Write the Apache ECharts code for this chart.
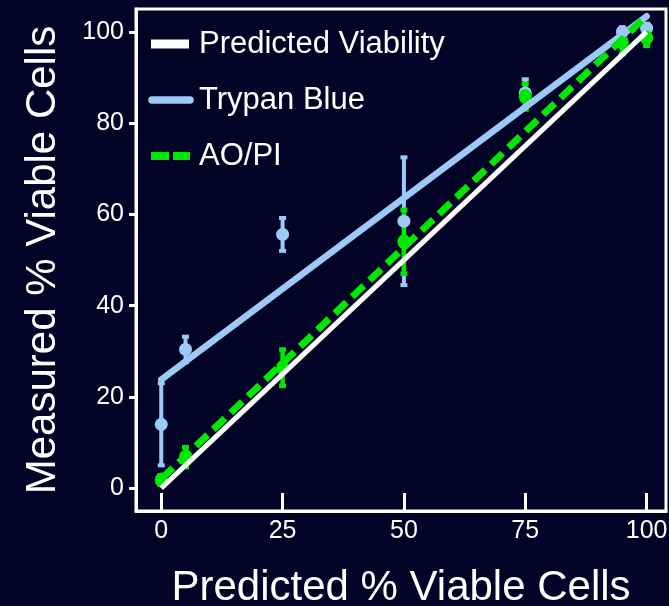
<!DOCTYPE html>
<html>
<head>
<meta charset="utf-8">
<script src="https://cdn.jsdelivr.net/npm/echarts@6/dist/echarts.min.js"></script>
<style>
html,body{margin:0;padding:0;background:#030328;}
#c{width:669px;height:606px;}
</style>
</head>
<body>
<div id="c"></div>
<script>
// ---- data ----
const xValues = [0, 5, 25, 50, 75, 95, 100];
const trypanMean = [14.0, 30.4, 55.6, 58.5, 86.6, 100.0, 100.8];
const trypanErr  = [9.0, 2.8, 3.6, 14.0, 3.0, 1.0, 1.0];
const aopiMean   = [1.8, 6.8, 26.4, 54.0, 85.8, 97.7, 98.7];
const aopiErr    = [1.0, 2.2, 4.0, 7.0, 2.8, 2.6, 1.8];

const predictedX = [0, 100];
const predictedY = [0, 100];
const trypanFitX = [0, 100];
const trypanFitY = [23.8, 103.4];
const aopiFitX   = [0, 100];
const aopiFitY   = [2.0, 103.5];

const xTicks = [0, 25, 50, 75, 100];
const yTicks = [0, 20, 40, 60, 80, 100];

const seriesNames = ['Predicted Viability', 'Trypan Blue', 'AO/PI'];
const xTitle = 'Predicted % Viable Cells';
const yTitle = 'Measured % Viable Cells';

// ---- styling ----
const WHITE = '#ffffff';
const BLUE = '#9cc9f8';
const GREEN = '#00e800';
const FONT = '"Liberation Sans", Arial, sans-serif';

const zip = (a, b) => a.map((v, i) => [v, b[i]]);
const zip3 = (a, b, c) => a.map((v, i) => [v, b[i], c[i]]);

function errRender(color, lw) {
  return function (params, api) {
    const x = api.value(0), m = api.value(1), e = api.value(2);
    const t = api.coord([x, m + e]);
    const b = api.coord([x, m - e]);
    const hw = 3.5;
    const st = { stroke: color, lineWidth: lw };
    return {
      type: 'group',
      children: [
        { type: 'line', shape: { x1: t[0], y1: t[1], x2: b[0], y2: b[1] }, style: st },
        { type: 'line', shape: { x1: t[0] - hw, y1: t[1], x2: t[0] + hw, y2: t[1] }, style: st },
        { type: 'line', shape: { x1: b[0] - hw, y1: b[1], x2: b[0] + hw, y2: b[1] }, style: st }
      ]
    };
  };
}

const chart = echarts.init(document.getElementById('c'), null, { renderer: 'canvas' });
chart.setOption({
  backgroundColor: '#030328',
  animation: false,
  textStyle: { fontFamily: FONT },
  grid: {
    left: 136, right: 3, top: 9, bottom: 95,
    containLabel: false, outerBoundsMode: 'none',
    show: true, borderColor: WHITE, borderWidth: 3, backgroundColor: 'transparent'
  },
  legend: {
    orient: 'vertical',
    left: 148, top: 27,
    padding: 0,
    itemWidth: 46, itemHeight: 10,
    itemGap: 22,
    textStyle: { color: WHITE, fontSize: 31, fontFamily: FONT, lineHeight: 34 },
    data: [
      { name: seriesNames[0], icon: 'path://M0,0 M46,10 M3,0.5H41V9.5H3Z', itemStyle: { color: WHITE } },
      { name: seriesNames[1], icon: 'path://M0,0 M46,10 M4,1.2H42A3.8,3.8 0 0 1 42,8.8H4A3.8,3.8 0 0 1 4,1.2Z', itemStyle: { color: BLUE } },
      { name: seriesNames[2], icon: 'path://M0,0 M46,10 M3,1H21V9H3Z M25,1H42V9H25Z', itemStyle: { color: GREEN } }
    ]
  },
  xAxis: {
    type: 'value', min: -5.2, max: 104,
    name: xTitle, nameLocation: 'middle', nameGap: 56,
    nameTextStyle: { color: WHITE, fontSize: 42, fontFamily: FONT },
    axisLine: { show: true, onZero: false, lineStyle: { color: WHITE, width: 3 } },
    axisTick: { show: true, inside: true, length: 18, lineStyle: { color: WHITE, width: 3 }, customValues: xTicks },
    axisLabel: { color: WHITE, fontSize: 25, fontFamily: FONT, margin: 8, customValues: xTicks },
    splitLine: { show: false }
  },
  yAxis: {
    type: 'value', min: -5, max: 105,
    name: yTitle, nameLocation: 'middle', nameGap: 72, nameRotate: 90,
    nameTextStyle: { color: WHITE, fontSize: 42, fontFamily: FONT },
    axisLine: { show: true, onZero: false, lineStyle: { color: WHITE, width: 3 } },
    axisTick: { show: true, inside: false, length: 7, lineStyle: { color: WHITE, width: 3 }, customValues: yTicks },
    axisLabel: { color: WHITE, fontSize: 25, fontFamily: FONT, margin: 12, customValues: yTicks },
    splitLine: { show: false }
  },
  series: [
    {
      name: seriesNames[0], type: 'line', data: zip(predictedX, predictedY),
      showSymbol: false, symbol: 'none', color: WHITE,
      lineStyle: { color: WHITE, width: 5 }
    },
    {
      name: seriesNames[1], type: 'line', data: zip(trypanFitX, trypanFitY),
      showSymbol: false, symbol: 'none', color: BLUE,
      lineStyle: { color: BLUE, width: 6.5, cap: 'round' }
    },
    {
      name: 'tb-err', type: 'custom', data: zip3(xValues, trypanMean, trypanErr),
      renderItem: errRender(BLUE, 4), encode: { x: 0, y: 1 }
    },
    {
      name: 'tb-pts', type: 'scatter', data: zip(xValues, trypanMean),
      symbol: 'circle', symbolSize: 13, itemStyle: { color: BLUE, opacity: 1 }
    },
    {
      name: seriesNames[2], type: 'line', data: zip(aopiFitX, aopiFitY),
      showSymbol: false, symbol: 'none', color: GREEN,
      lineStyle: { color: GREEN, width: 7, type: [16, 8] }
    },
    {
      name: 'ao-err', type: 'custom', data: zip3(xValues, aopiMean, aopiErr),
      renderItem: errRender(GREEN, 4.5), encode: { x: 0, y: 1 }
    },
    {
      name: 'ao-pts', type: 'scatter', data: zip(xValues, aopiMean),
      symbol: 'circle', symbolSize: [13, 15], itemStyle: { color: GREEN, opacity: 1 }
    }
  ]
});
</script>
</body>
</html>
